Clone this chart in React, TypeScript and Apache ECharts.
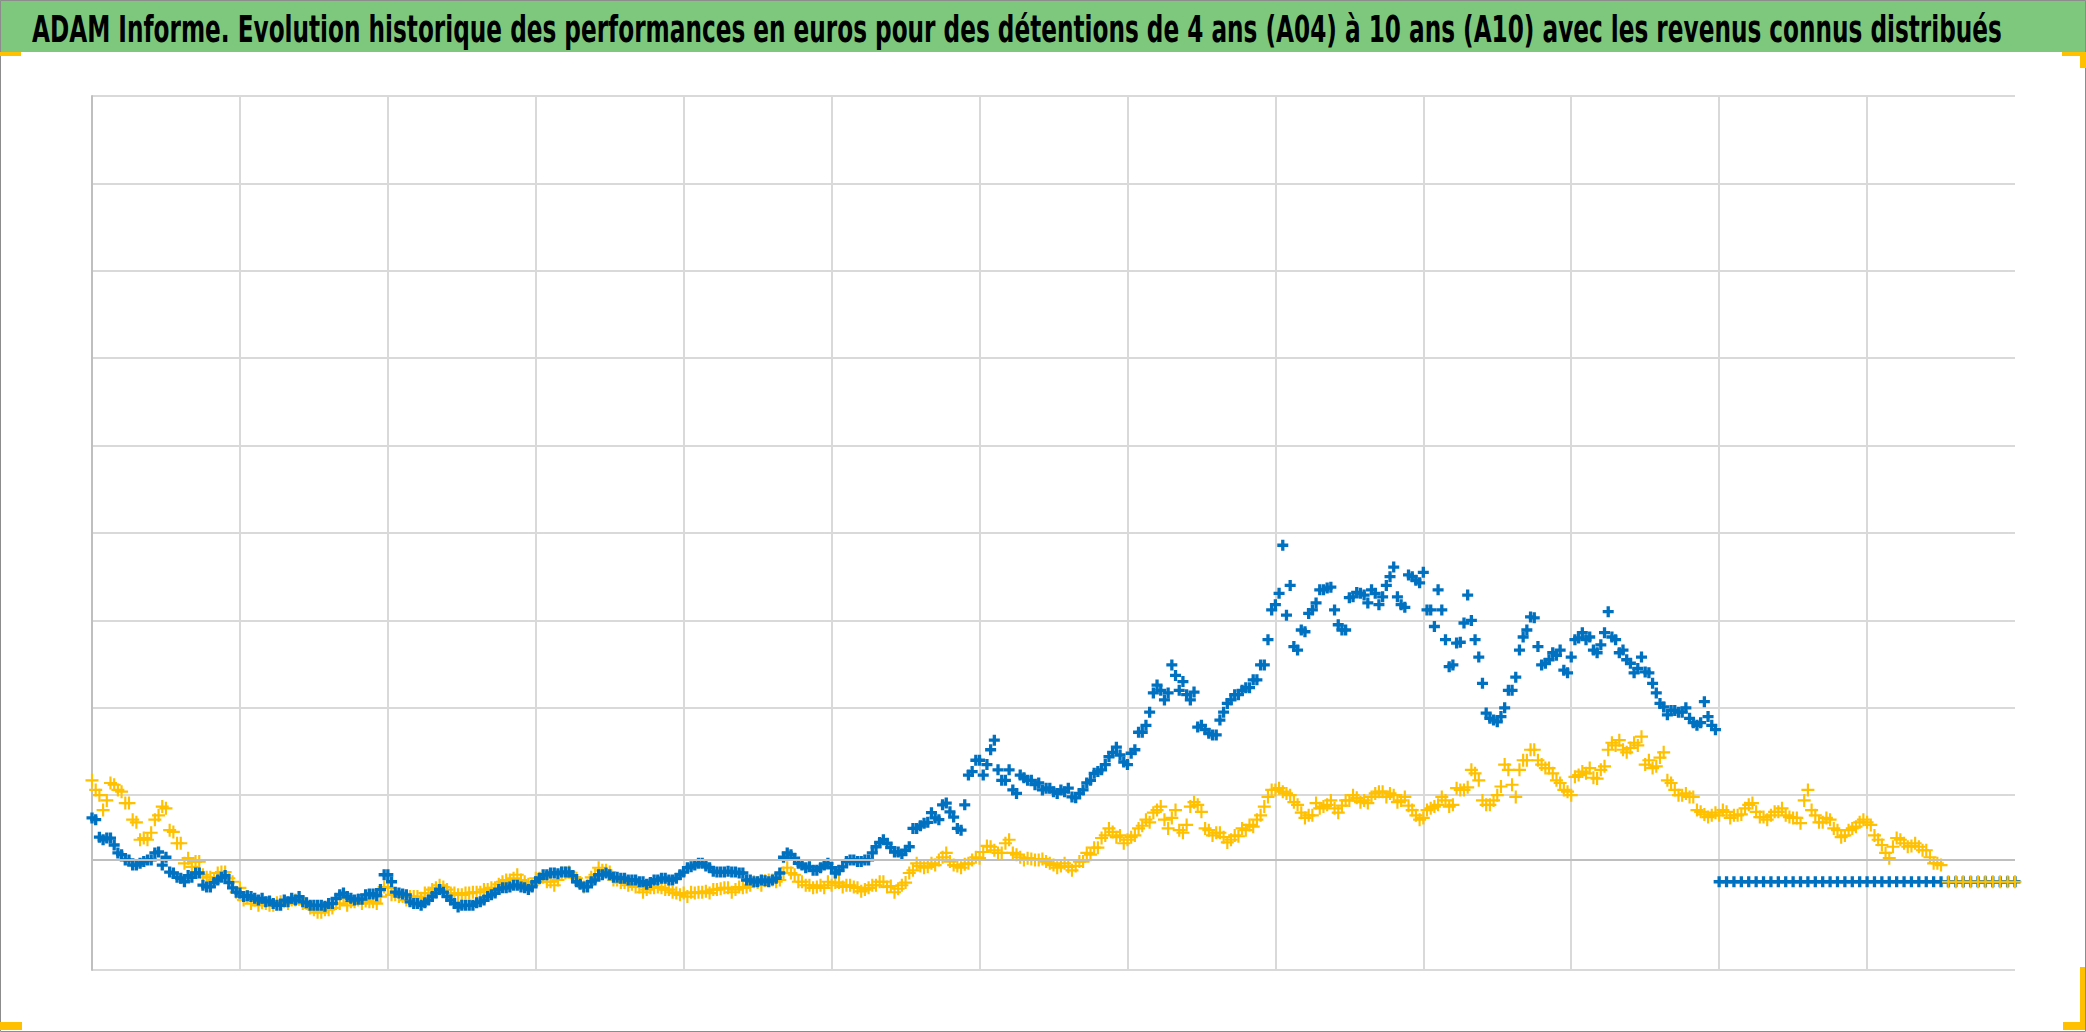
import React, { useEffect, useRef } from "react";
import * as echarts from "echarts";

const TITLE =
  "ADAM Informe. Evolution historique des performances en euros pour des détentions de 4 ans (A04) à 10 ans (A10) avec les revenus connus distribués";

// x is measured in grid columns (13 columns); readings every X_STEP,
// plus a second set of readings taken half a step later
const X_STEP = 0.05;
const HALF_START = 0.025;
const X_MAX = 13;
const Y_MAX = 1000;
const Y_INTERVAL = 100;
const AXIS_CROSS = 126;

// yellow series (A10), columns 0 .. 12.5
const yellowValues = [
  217, 200, 194, 212, 204, 191, 169, 151, 157, 177, 185, 158, 145, 128, 124, 109, 106, 111, 112, 101,
  94, 84, 80, 77, 74, 77, 78, 80, 81, 76, 69, 66, 69, 76, 82, 78, 80, 79, 78, 84,
  94, 86, 84, 84, 84, 88, 92, 97, 92, 88, 86, 88, 89, 92, 94, 98, 103, 105, 103, 98,
  105, 106, 101, 103, 111, 106, 100, 97, 109, 114, 112, 103, 100, 98, 95, 92, 94, 94, 92, 88,
  88, 89, 89, 90, 92, 93, 94, 92, 94, 97, 100, 102, 103, 103, 117, 109, 101, 97, 95, 94,
  97, 100, 97, 95, 90, 94, 97, 101, 96, 93, 100, 114, 119, 118, 120, 129, 124, 119, 121, 126,
  128, 142, 137, 134, 149, 132, 126, 127, 126, 124, 120, 119, 118, 119, 124, 132, 140, 154, 158, 154,
  149, 154, 165, 169, 183, 172, 174, 160, 166, 192, 181, 160, 157, 152, 149, 153, 160, 164, 177, 198,
  206, 204, 200, 189, 174, 177, 185, 189, 185, 188, 194, 197, 194, 198, 204, 198, 200, 194, 188, 177,
  174, 185, 189, 194, 189, 206, 209, 225, 194, 189, 200, 235, 212, 229, 240, 252, 235, 231, 217, 206,
  200, 223, 225, 220, 229, 252, 257, 252, 254, 257, 235, 231, 243, 217, 206, 200, 198, 183, 178, 177,
  177, 181, 177, 178, 189, 181, 175, 177, 181, 177, 174, 168, 206, 177, 169, 172, 160, 154, 162, 169,
  169, 154, 143, 128, 151, 145, 142, 141, 137, 122, 120,
];
// yellow series, half-step readings, columns 0.025 .. 12.475
const yellowHalf = [
  206, 183, 214, 206, 191, 172, 149, 149, 172, 187, 160, 145, 122, 118, 124, 106, 103, 112, 105, 89,
  80, 76, 74, 76, 74, 78, 76, 80, 76, 71, 66, 69, 71, 76, 74, 78, 76, 78, 76, 95,
  86, 84, 80, 84, 82, 88, 94, 95, 88, 86, 88, 89, 89, 92, 94, 101, 103, 109, 101, 97,
  105, 101, 97, 111, 112, 105, 95, 106, 117, 114, 103, 100, 97, 95, 89, 94, 95, 92, 89, 86,
  84, 88, 89, 88, 92, 94, 89, 95, 95, 101, 97, 103, 101, 111, 111, 101, 97, 94, 97, 101,
  100, 95, 97, 94, 92, 97, 101, 95, 89, 97, 111, 122, 117, 122, 126, 134, 120, 117, 122, 129,
  135, 141, 134, 145, 134, 129, 128, 126, 127, 122, 117, 122, 114, 124, 134, 140, 151, 162, 152, 145,
  152, 162, 172, 180, 187, 162, 183, 157, 187, 189, 162, 154, 157, 146, 154, 162, 166, 172, 187, 206,
  208, 202, 192, 180, 177, 191, 187, 194, 180, 194, 200, 192, 191, 202, 204, 202, 192, 198, 183, 172,
  183, 187, 198, 187, 208, 206, 229, 217, 189, 194, 210, 229, 198, 240, 252, 240, 231, 225, 214, 204,
  221, 227, 231, 219, 233, 260, 263, 249, 260, 267, 240, 233, 249, 214, 200, 202, 198, 181, 175, 180,
  183, 174, 177, 185, 191, 175, 172, 181, 185, 175, 174, 194, 183, 169, 174, 162, 152, 160, 164, 172,
  166, 149, 134, 141, 149, 141, 145, 137, 129, 122,
];
const YELLOW_TAIL_START = 12.55;
const yellowTail = [101, 101, 101, 101, 101, 101, 101, 101, 101, 101];

// blue series (A04), columns 0 .. 10.95
const blueValues = [
  174, 152, 151, 143, 132, 126, 120, 124, 126, 135, 129, 111, 105, 108, 111, 97, 95, 103, 108, 94,
  88, 85, 82, 82, 79, 74, 80, 82, 84, 77, 74, 74, 76, 82, 88, 82, 81, 86, 87, 92,
  109, 89, 87, 78, 76, 77, 84, 92, 84, 76, 74, 74, 77, 80, 86, 92, 94, 97, 95, 92,
  101, 109, 111, 110, 112, 108, 98, 95, 103, 109, 109, 106, 105, 103, 101, 98, 103, 105, 103, 105,
  112, 118, 122, 119, 113, 112, 113, 112, 111, 103, 101, 102, 103, 111, 134, 128, 120, 118, 114, 120,
  117, 114, 124, 126, 124, 126, 141, 149, 140, 135, 137, 162, 165, 169, 174, 189, 181, 162, 189, 227,
  240, 235, 263, 217, 229, 202, 220, 217, 214, 208, 204, 206, 208, 197, 206, 217, 227, 235, 249, 246,
  235, 252, 272, 295, 326, 309, 349, 320, 315, 318, 280, 271, 269, 295, 309, 315, 323, 332, 349, 378,
  418, 486, 440, 366, 387, 412, 435, 437, 412, 389, 426, 432, 429, 435, 418, 440, 461, 418, 452, 446,
  455, 412, 435, 378, 349, 375, 429, 378, 328, 288, 284, 300, 320, 366, 389, 403, 349, 355, 360, 343,
  358, 380, 378, 366, 372, 410, 378, 366, 351, 345, 341, 328, 305, 292, 297, 295, 288, 280, 307, 280,
];
// blue series, half-step readings, columns 0.025 .. 10.975
const blueHalf = [
  172, 149, 151, 134, 126, 120, 122, 126, 134, 120, 112, 106, 101, 106, 111, 95, 100, 106, 100, 89,
  84, 84, 80, 78, 76, 74, 78, 80, 78, 74, 74, 73, 76, 86, 84, 80, 81, 87, 85, 109,
  101, 88, 86, 76, 74, 80, 88, 89, 80, 72, 74, 74, 78, 84, 88, 94, 95, 97, 94, 95,
  105, 109, 111, 112, 112, 101, 95, 101, 109, 111, 106, 105, 103, 103, 101, 100, 103, 105, 103, 109,
  117, 120, 122, 117, 112, 112, 112, 111, 103, 101, 103, 101, 105, 129, 132, 122, 117, 114, 117, 122,
  111, 118, 126, 124, 126, 134, 146, 145, 135, 132, 141, 162, 168, 180, 172, 191, 175, 160, 223, 240,
  223, 252, 229, 217, 206, 223, 217, 212, 206, 208, 202, 204, 198, 202, 214, 225, 229, 244, 255, 238,
  248, 272, 280, 317, 320, 317, 337, 330, 309, 278, 275, 269, 286, 305, 315, 320, 323, 332, 349, 412,
  431, 406, 370, 389, 408, 420, 435, 438, 395, 389, 427, 431, 420, 431, 427, 450, 427, 415, 450, 443,
  412, 393, 412, 347, 374, 397, 400, 358, 294, 286, 290, 320, 335, 381, 404, 370, 351, 363, 366, 340,
  378, 386, 381, 363, 386, 381, 363, 355, 340, 358, 340, 317, 301, 297, 295, 300, 283, 283, 290, 275,
];
const BLUE_TAIL_START = 11.0;
const blueTail = [
  101, 101, 101, 101, 101, 101, 101, 101, 101, 101, 101, 101, 101, 101, 101, 101, 101, 101, 101, 101,
  101, 101, 101, 101, 101, 101, 101, 101, 101, 101, 101, 101, 101, 101, 101, 101, 101, 101, 101, 101,
  101,
];

const BLUE = "#0070C0";
const YELLOW = "#FFC000";
const GRID_COLOR = "#d9d9d9";
const AXIS_COLOR = "#bfbfbf";
const BAR_GREEN = "#7ec87e";

const PLUS_BOLD = "path://M35,0h30v35h35v30h-35v35h-30v-35h-35v-30h35z";
const PLUS_THIN = "path://M50,0h20v50h50v20h-50v50h-20v-50h-50v-20h50z";
const BLUE_SIZE = 11;
const YELLOW_SIZE = 13;

const TITLE_SIZE = 37;
const TITLE_WIDTH = 1970;
const TITLE_FAMILY = "'Liberation Sans Narrow', 'DejaVu Sans Condensed', 'Noto Sans', sans-serif";

function toPoints(values: number[], start: number) {
  return values.map((v, i) => [Number((start + i * X_STEP).toFixed(3)), v]);
}

function measureTitle(): number {
  const ctx = document.createElement("canvas").getContext("2d");
  if (!ctx) return TITLE_WIDTH;
  ctx.font = `bold ${TITLE_SIZE}px ${TITLE_FAMILY}`;
  return ctx.measureText(TITLE).width || TITLE_WIDTH;
}

function scatter(name: string, data: number[][], color: string, symbol: string, size: number, z: number) {
  return {
    name,
    type: "scatter",
    z,
    symbol,
    symbolSize: size,
    itemStyle: { color, opacity: 1 },
    emphasis: { disabled: true },
    data,
  };
}

export default function App() {
  const ref = useRef<HTMLDivElement>(null);

  useEffect(() => {
    if (!ref.current) return;
    const chart = echarts.init(ref.current, undefined, { renderer: "svg" });
    const titleScale = TITLE_WIDTH / measureTitle();

    const yLineCount = Y_MAX / Y_INTERVAL + 1;
    const ySplitColors: string[] = [];
    for (let i = 0; i < yLineCount; i++) ySplitColors.push(i === 1 ? "rgba(0,0,0,0)" : GRID_COLOR);

    const option: any = {
      animation: false,
      backgroundColor: "#ffffff",
      grid: { left: 92, right: 71, top: 96, bottom: 62, containLabel: false },
      xAxis: {
        type: "value",
        min: 0,
        max: X_MAX,
        interval: 1,
        axisLine: { show: false },
        axisTick: { show: false },
        axisLabel: { show: false },
        splitLine: { show: true, showMaxLine: false, lineStyle: { color: GRID_COLOR, width: 2 } },
      },
      yAxis: {
        type: "value",
        min: 0,
        max: Y_MAX,
        interval: Y_INTERVAL,
        axisLine: { show: true, lineStyle: { color: AXIS_COLOR, width: 2 } },
        axisTick: { show: false },
        axisLabel: { show: false },
        splitLine: { show: true, lineStyle: { color: ySplitColors, width: 2 } },
      },
      series: [
        {
          type: "line",
          data: [],
          z: 1,
          silent: true,
          markLine: {
            silent: true,
            symbol: ["none", "none"],
            label: { show: false },
            lineStyle: { color: AXIS_COLOR, width: 2, type: "solid" },
            data: [{ yAxis: AXIS_CROSS }],
          },
        },
        scatter("A10", toPoints(yellowValues, 0), YELLOW, PLUS_THIN, YELLOW_SIZE, 2),
        scatter("A10 bis", toPoints(yellowHalf, HALF_START), YELLOW, PLUS_THIN, YELLOW_SIZE, 2),
        scatter("A04", toPoints(blueValues, 0), BLUE, PLUS_BOLD, BLUE_SIZE, 3),
        scatter("A04 bis", toPoints(blueHalf, HALF_START), BLUE, PLUS_BOLD, BLUE_SIZE, 3),
        scatter("A04 fin", toPoints(blueTail, BLUE_TAIL_START), BLUE, PLUS_BOLD, BLUE_SIZE, 3),
        scatter("A10 fin", toPoints(yellowTail, YELLOW_TAIL_START), YELLOW, PLUS_THIN, YELLOW_SIZE, 4),
      ],
      graphic: [
        { type: "rect", shape: { x: 0, y: 0, width: 2086, height: 52 }, style: { fill: BAR_GREEN } },
        {
          type: "text",
          x: 32,
          y: 29,
          scaleX: titleScale,
          style: {
            text: TITLE,
            fontSize: TITLE_SIZE,
            fontWeight: "bold",
            fontFamily: TITLE_FAMILY,
            fill: "#000000",
            align: "left",
            verticalAlign: "middle",
          },
        },
        {
          type: "rect",
          shape: { x: 0.5, y: 0.5, width: 2085, height: 1031 },
          style: { fill: "none", stroke: "#8c8c8c", lineWidth: 1 },
        },
        { type: "rect", shape: { x: 0, y: 52, width: 21, height: 4 }, style: { fill: YELLOW } },
        { type: "rect", shape: { x: 2062, y: 52, width: 24, height: 4 }, style: { fill: YELLOW } },
        { type: "rect", shape: { x: 2080, y: 52, width: 6, height: 16 }, style: { fill: YELLOW } },
        { type: "rect", shape: { x: 0, y: 1022, width: 22, height: 8 }, style: { fill: YELLOW } },
        { type: "rect", shape: { x: 2080, y: 967, width: 5, height: 63 }, style: { fill: YELLOW } },
        { type: "rect", shape: { x: 2063, y: 1022, width: 22, height: 8 }, style: { fill: YELLOW } },
      ],
    };

    chart.setOption(option);
    return () => chart.dispose();
  }, []);

  return (
    <div
      ref={ref}
      style={{ position: "fixed", left: 0, top: 0, width: 2086, height: 1032, background: "#ffffff" }}
    />
  );
}
